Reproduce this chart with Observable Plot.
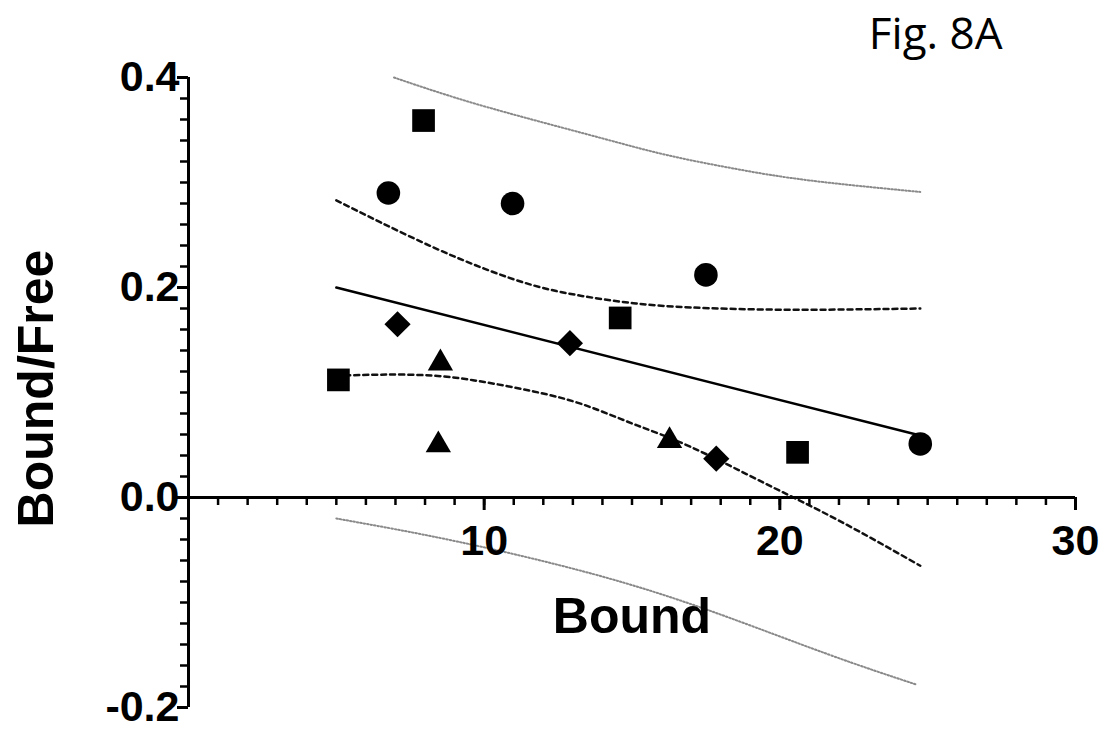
<!DOCTYPE html>
<html>
<head>
<meta charset="utf-8">
<script src="https://cdn.jsdelivr.net/npm/d3@7"></script>
<script src="https://cdn.jsdelivr.net/npm/@observablehq/plot@0.6"></script>
<style>
  html, body { margin: 0; padding: 0; background: #fff; }
  #chart { position: absolute; left: 0; top: 0; }
</style>
</head>
<body>
<div id="chart"></div>
<script>
// ---- Data ----
const squaresX   = [5.07, 7.95, 14.6, 20.6];
const squaresY   = [0.112, 0.359, 0.171, 0.043];
const circlesX   = [6.76, 10.96, 17.5, 24.75];
const circlesY   = [0.290, 0.280, 0.212, 0.051];
const diamondsX  = [7.07, 12.9, 17.85];
const diamondsY  = [0.165, 0.147, 0.037];
const trianglesX = [8.52, 8.45, 16.27];
const trianglesY = [0.128, 0.050, 0.054];

// regression line
const fitX = [5.0, 24.75];
const fitY = [0.200, 0.059];
// 95% confidence band (dashed)
const ciX      = [5.0, 6.5, 8.3, 10.0, 11.67, 13.3, 15.05, 17.0, 19.6, 22.0, 24.75];
const ciUpperY = [0.283, 0.262, 0.238, 0.218, 0.202, 0.192, 0.185, 0.181, 0.179, 0.179, 0.180];
const ciLowerY = [0.116, 0.117, 0.116, 0.110, 0.101, 0.089, 0.070, 0.048, 0.012, -0.022, -0.065];
// 95% prediction band (dotted)
const piUpperX = [6.95, 9.0, 11.35, 14.0, 16.2, 18.5, 21.0, 24.75];
const piUpperY = [0.400, 0.381, 0.362, 0.342, 0.326, 0.313, 0.302, 0.291];
const piLowerX = [5.0, 9.1, 13.7, 17.65, 21.6, 24.6];
const piLowerY = [-0.020, -0.042, -0.073, -0.108, -0.149, -0.178];

// axes
const xDomain = [0, 30];
const yDomain = [-0.2, 0.4];
const xMajorTicks = [10, 20, 30];
const xMinorTicks = d3.range(1, 31);
const yMajorTicks = [-0.2, 0.0, 0.2, 0.4];
const yMinorTicks = d3.range(-10, 21).map(i => i * 0.02);
const xTitle = "Bound";
const yTitle = "Bound/Free";
const figTitle = "Fig. 8A";

const zip = (xs, ys) => xs.map((x, i) => ({x, y: ys[i]}));

const bold = "Liberation Sans, Arial, Helvetica, sans-serif";

const chart = Plot.plot({
  width: 1104,
  height: 729,
  marginLeft: 188,
  marginRight: 29,
  marginTop: 77,
  marginBottom: 22,
  x: {domain: xDomain, axis: null},
  y: {domain: yDomain, axis: null},
  style: {background: "#fff", fontFamily: bold, color: "#000", overflow: "visible"},
  marks: [
    // prediction band (dotted gray)
    Plot.line(zip(piUpperX, piUpperY), {x: "x", y: "y", stroke: "#8a8a8a", strokeWidth: 2, strokeDasharray: "1.5,2", curve: "natural"}),
    Plot.line(zip(piLowerX, piLowerY), {x: "x", y: "y", stroke: "#8a8a8a", strokeWidth: 2, strokeDasharray: "1.5,2", curve: "natural"}),
    // confidence band (dashed)
    Plot.line(zip(ciX, ciUpperY), {x: "x", y: "y", stroke: "#111", strokeWidth: 2.5, strokeDasharray: "5,4", curve: "natural"}),
    Plot.line(zip(ciX, ciLowerY), {x: "x", y: "y", stroke: "#111", strokeWidth: 2.5, strokeDasharray: "5,4", curve: "natural"}),
    // regression line
    Plot.line(zip(fitX, fitY), {x: "x", y: "y", stroke: "#000", strokeWidth: 2.5}),

    // y axis line + ticks
    Plot.ruleX([0], {y1: yDomain[0], y2: yDomain[1], stroke: "#000", strokeWidth: 3}),
    Plot.ruleY(yMinorTicks, {y: d => d, x1: 0, x2: 0, insetLeft: -8, stroke: "#000", strokeWidth: 2.5}),
    Plot.ruleY(yMajorTicks, {y: d => d, x1: 0, x2: 0, insetLeft: -11, stroke: "#000", strokeWidth: 3}),
    Plot.text(yMajorTicks, {x: 0, y: d => d, text: d => d.toFixed(1), textAnchor: "end", dx: -9, fontSize: 43, fontWeight: "bold", fill: "#000"}),

    // x axis line + ticks (at y = 0)
    Plot.ruleY([0], {x1: xDomain[0], x2: xDomain[1], stroke: "#000", strokeWidth: 3}),
    Plot.ruleX(xMinorTicks, {x: d => d, y1: 0, y2: 0, insetBottom: -8, stroke: "#000", strokeWidth: 2.5}),
    Plot.ruleX(xMajorTicks, {x: d => d, y1: 0, y2: 0, insetBottom: -13, stroke: "#000", strokeWidth: 3}),
    Plot.text(xMajorTicks, {x: d => d, y: 0, text: d => String(d), dy: 44, fontSize: 43, fontWeight: "bold", fill: "#000"}),

    // points
    Plot.dot(zip(squaresX, squaresY), {x: "x", y: "y", symbol: "square", r: 12.8, fill: "#000"}),
    Plot.dot(zip(circlesX, circlesY), {x: "x", y: "y", symbol: "circle", r: 11.8, fill: "#000"}),
    Plot.dot(zip(diamondsX, diamondsY), {x: "x", y: "y", symbol: "diamond2", r: 11.8, fill: "#000"}),
    Plot.dot(zip(trianglesX, trianglesY), {x: "x", y: "y", symbol: "triangle", r: 9.4, fill: "#000"}),

    // titles
    Plot.text([xTitle], {frameAnchor: "bottom", dy: -75, text: d => d, fontSize: 50, fontWeight: "bold", fill: "#000"}),
    Plot.text([yTitle], {frameAnchor: "left", textAnchor: "middle", dx: -152, dy: -4, rotate: -90, text: d => d, fontSize: 50, fontWeight: "bold", fill: "#000"}),
    Plot.text([figTitle], {frameAnchor: "top-right", dx: -73, dy: -60, textAnchor: "end", text: d => d, fontSize: 44, fontFamily: "Open Sans, Noto Sans, sans-serif", fill: "#000"})
  ]
});

document.getElementById("chart").appendChild(chart);
</script>
</body>
</html>
